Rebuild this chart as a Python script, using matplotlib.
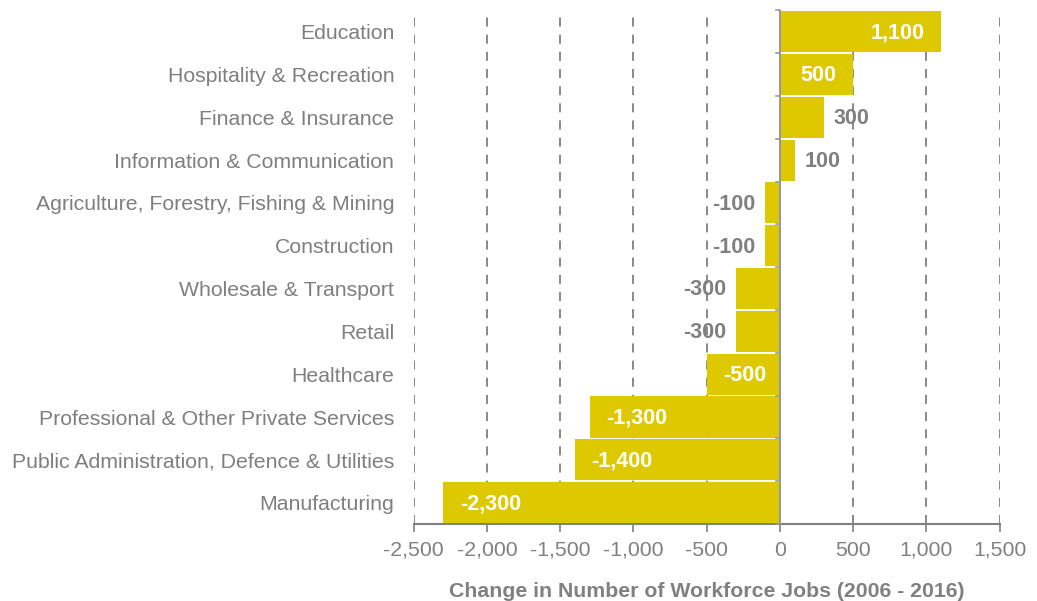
import matplotlib.pyplot as plt
from matplotlib.ticker import FuncFormatter

plt.rcParams['font.family'] = ['Liberation Sans', 'DejaVu Sans']

sectors = ["Education", "Hospitality & Recreation", "Finance & Insurance",
           "Information & Communication", "Agriculture, Forestry, Fishing & Mining",
           "Construction", "Wholesale & Transport", "Retail", "Healthcare",
           "Professional & Other Private Services",
           "Public Administration, Defence & Utilities", "Manufacturing"]
change = [1100, 500, 300, 100, -100, -100, -300, -300, -500, -1300, -1400, -2300]

gray = "#808080"
yellow = "#DEC900"

fig, ax = plt.subplots(figsize=(10.37, 6.01), dpi=100)
fig.subplots_adjust(left=0.399, right=0.964, top=0.983, bottom=0.128)

pos = list(range(len(sectors)))
ax.barh(pos, change, height=0.96, color=yellow, zorder=3)
ax.set_ylim(len(sectors) - 0.5, -0.5)
ax.set_xlim(-2500, 1500)
ax.set_xticks(range(-2500, 1501, 500))
ax.xaxis.set_major_formatter(FuncFormatter(lambda v, p: f"{int(v):,}"))
ax.set_yticks(pos)
ax.set_yticklabels(sectors)

# value labels: inside the bar when it is long enough, outside otherwise
for y, v in zip(pos, change):
    txt = f"{v:,}"
    if abs(v) >= 500:
        off, ha, col = (-12, "right", "white") if v > 0 else (12, "left", "white")
    else:
        off, ha, col = (7, "left", gray) if v > 0 else (-7, "right", gray)
    ax.annotate(txt, (v, y), xytext=(off, -1), textcoords="offset points",
                ha=ha, va="center", color=col, fontweight="bold",
                fontsize=15.5, zorder=4)

ax.grid(axis="x", color=gray, linestyle=(0, (5, 4.5)), linewidth=1.3, zorder=0)
for s in ["top", "right", "left"]:
    ax.spines[s].set_visible(False)
ax.spines["bottom"].set_color(gray)
ax.spines["bottom"].set_linewidth(1.5)
ax.axvline(0, color="#999999", linewidth=1.5, zorder=5)

ax.tick_params(axis="x", colors=gray, labelsize=15.3, length=6, width=1.2, pad=6)
ax.tick_params(axis="y", length=0, labelsize=15.3, labelcolor="#7f7f7f", pad=14)
# small ticks on the zero line between categories
for b in range(len(sectors) + 1):
    ax.plot([-30, 0], [b - 0.5, b - 0.5], color="#999999", linewidth=1.2,
            zorder=5, clip_on=False)

ax.set_xlabel("Change in Number of Workforce Jobs (2006 - 2016)", color=gray,
              fontsize=15.3, fontweight="bold", labelpad=16)

plt.savefig("out.png")
